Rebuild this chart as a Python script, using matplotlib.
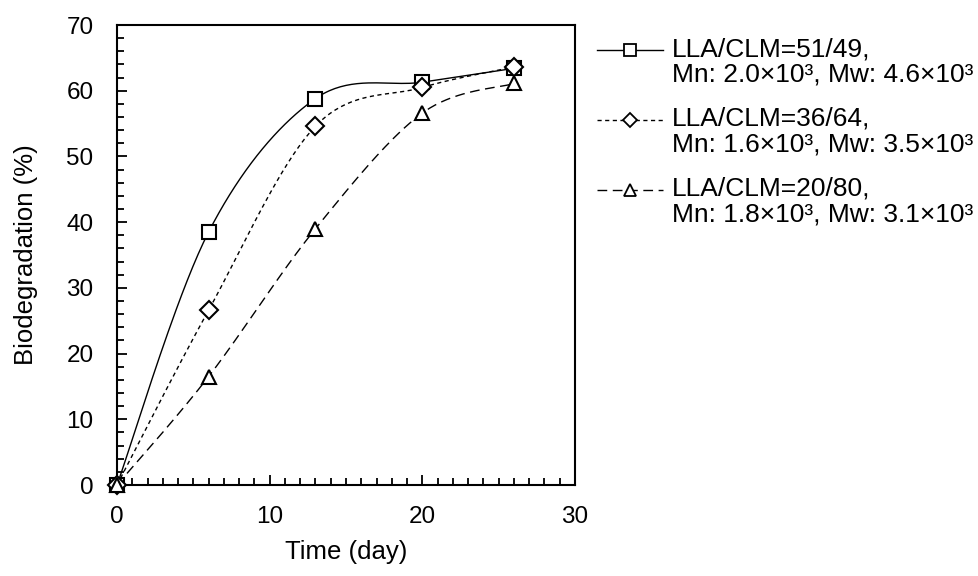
import numpy as np
import matplotlib
matplotlib.use("Agg")
import matplotlib.pyplot as plt
from matplotlib.ticker import MultipleLocator
from matplotlib.legend_handler import HandlerLine2D

plt.rcParams['font.family'] = ['Liberation Sans', 'DejaVu Sans']

# Datos
days = [0, 6, 13, 20, 26]
bio_51_49 = [0, 38.5, 58.8, 61.3, 63.4]
bio_36_64 = [0, 26.6, 54.6, 60.5, 63.6]
bio_20_80 = [0, 16.5, 39.0, 56.6, 61.1]

labels = [
    "LLA/CLM=51/49,\nMn: 2.0×10³, Mw: 4.6×10³",
    "LLA/CLM=36/64,\nMn: 1.6×10³, Mw: 3.5×10³",
    "LLA/CLM=20/80,\nMn: 1.8×10³, Mw: 3.1×10³",
]

LEG_FS = 19


def smooth_line(x, y, n=40):
    """Curva suavizada tipo Excel (Bezier con tangentes de Catmull-Rom)."""
    p = np.column_stack([x, y]).astype(float)
    out = [p[0]]
    t = np.linspace(0, 1, n)[1:, None]
    for i in range(len(p) - 1):
        p0 = p[i - 1] if i > 0 else p[i]
        p1, p2 = p[i], p[i + 1]
        p3 = p[i + 2] if i + 2 < len(p) else p[i + 1]
        c1 = p1 + (p2 - p0) / 6
        c2 = p2 - (p3 - p1) / 6
        seg = ((1 - t) ** 3) * p1 + 3 * ((1 - t) ** 2) * t * c1 \
            + 3 * (1 - t) * t ** 2 * c2 + t ** 3 * p2
        out.extend(seg)
    out = np.array(out)
    return out[:, 0], out[:, 1]


class FirstLineHandler(HandlerLine2D):
    """Coloca el símbolo a la altura de la primera línea del texto."""
    def create_artists(self, legend, orig_handle, xdescent, ydescent,
                       width, height, fontsize, trans):
        s = 0.45 * fontsize
        return super().create_artists(legend, orig_handle, xdescent, ydescent - s,
                                      width, height + s, fontsize, trans)


fig = plt.figure(figsize=(9.79, 5.76), dpi=100)
ax = fig.add_axes([117 / 979, 91 / 576, 458 / 979, 460 / 576])

series = [
    (bio_51_49, 's', '-'),
    (bio_36_64, 'D', (0, (3, 2.5))),
    (bio_20_80, '^', (0, (7, 4))),
]
sizes = {'s': 10, 'D': 9, '^': 10}
leg_sizes = {'s': 8.5, 'D': 7.5, '^': 8.5}

handles = []
for (vals, marker, ls), label in zip(series, labels):
    sx, sy = smooth_line(days, vals)
    ax.plot(sx, sy, color='black', linestyle=ls, linewidth=1.0, clip_on=False)
    ax.plot(days, vals, linestyle='none', marker=marker, markersize=sizes[marker],
            markerfacecolor='white', markeredgecolor='black', markeredgewidth=1.5,
            clip_on=False, zorder=3)
    # entrada de leyenda
    h, = ax.plot([], [], color='black', linestyle=ls, linewidth=1.0, marker=marker,
                 markersize=leg_sizes[marker], markerfacecolor='white',
                 markeredgecolor='black', markeredgewidth=1.3, label=label)
    handles.append(h)

ax.set_xlim(0, 30)
ax.set_ylim(0, 70)
ax.xaxis.set_major_locator(MultipleLocator(10))
ax.xaxis.set_minor_locator(MultipleLocator(1))
ax.yaxis.set_major_locator(MultipleLocator(10))
ax.yaxis.set_minor_locator(MultipleLocator(2))

ax.tick_params(which='both', direction='in', top=False, right=False,
               width=1.3, labelsize=17.5)
ax.tick_params(which='major', length=7)
ax.tick_params(which='minor', length=5)
ax.tick_params(axis='y', which='major', pad=17)
ax.tick_params(axis='x', which='major', pad=15)
for sp in ax.spines.values():
    sp.set_linewidth(1.5)

ax.set_xlabel("Time (day)", fontsize=18.5)
ax.set_ylabel("Biodegradation (%)", fontsize=18.5)
ax.xaxis.set_label_coords(0.5, -0.12)
ax.yaxis.set_label_coords(-0.172, 0.5)

leg = ax.legend(handles=handles, loc='upper left',
                bbox_to_anchor=(597 / 979, 1 - 37 / 576),
                bbox_transform=fig.transFigure, frameon=False, fontsize=LEG_FS,
                handlelength=2.5, handletextpad=0.35, borderpad=0, borderaxespad=0,
                labelspacing=0.75,
                handler_map={h: FirstLineHandler() for h in handles})
for txt in leg.get_texts():
    txt.set_linespacing(1.1)

fig.savefig("out.png", dpi=100)
